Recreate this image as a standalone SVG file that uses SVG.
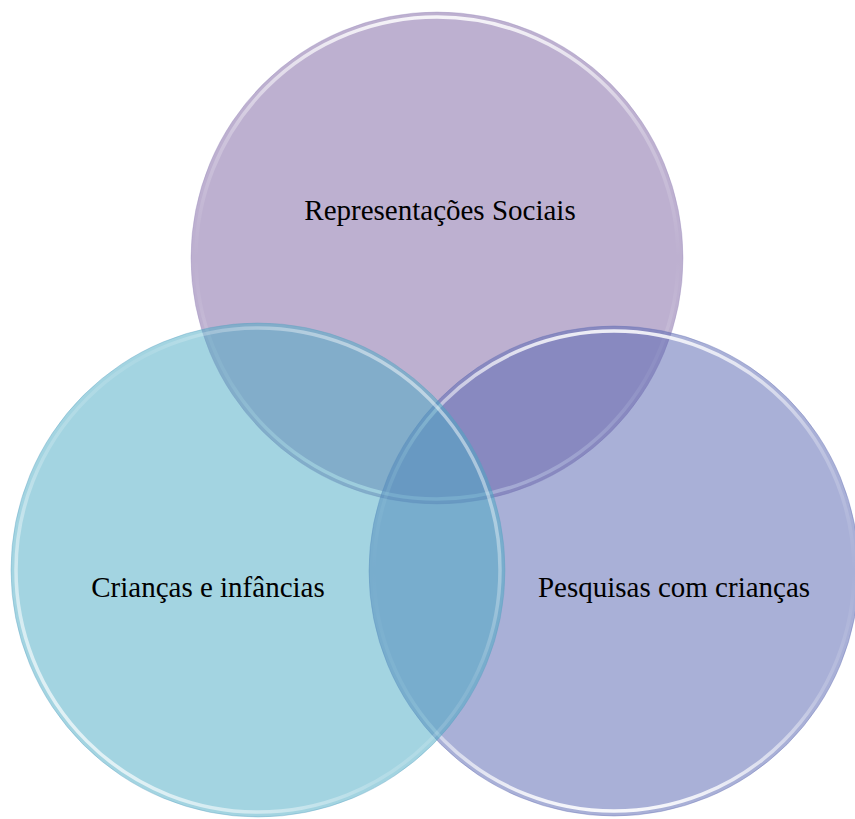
<svg xmlns="http://www.w3.org/2000/svg" width="855" height="819" viewBox="0 0 855 819">
  <defs>
    <linearGradient id="rim" x1="0" y1="0" x2="0" y2="1">
      <stop offset="0" stop-color="#ffffff" stop-opacity="0.85"/>
      <stop offset="0.25" stop-color="#ffffff" stop-opacity="0.25"/>
      <stop offset="0.5" stop-color="#ffffff" stop-opacity="0"/>
      <stop offset="0.75" stop-color="#ffffff" stop-opacity="0.2"/>
      <stop offset="1" stop-color="#ffffff" stop-opacity="0.9"/>
    </linearGradient>
    <linearGradient id="rimL" x1="1" y1="0" x2="0" y2="1">
      <stop offset="0" stop-color="#ffffff" stop-opacity="0.7"/>
      <stop offset="0.4" stop-color="#ffffff" stop-opacity="0.1"/>
      <stop offset="0.6" stop-color="#ffffff" stop-opacity="0.2"/>
      <stop offset="1" stop-color="#ffffff" stop-opacity="0.95"/>
    </linearGradient>
  </defs>
  <style>
    .lbl { font-family: "Liberation Serif", "Times New Roman", serif; font-size: 29px; fill: #000000; text-anchor: middle; }
    .rim { fill: none; stroke-width: 3.5; }
    .edge { fill: none; stroke-width: 1; }
  </style>
  <rect width="855" height="819" fill="#ffffff"/>

  <g id="node-representacoes">
    <circle cx="437" cy="258" r="246" fill="#BDB0D0"/>
    <circle class="edge" cx="437" cy="258" r="246" stroke="#9a8bbd" stroke-opacity="0.35"/>
    <circle class="rim" cx="437" cy="258" r="241" stroke="url(#rim)"/>
    <text class="lbl" x="440" y="220">Representações Sociais</text>
  </g>

  <g id="node-pesquisas">
    <circle cx="614" cy="571" r="245" fill="#5361AF" fill-opacity="0.5"/>
    <circle class="edge" cx="614" cy="571" r="245" stroke="#6670b5" stroke-opacity="0.4"/>
    <circle class="rim" cx="614" cy="571" r="240" stroke="url(#rim)"/>
    <text class="lbl" x="674" y="597">Pesquisas com crianças</text>
  </g>

  <g id="node-criancas">
    <circle cx="258" cy="570" r="247" fill="#47A9C3" fill-opacity="0.5"/>
    <circle class="edge" cx="258" cy="570" r="247" stroke="#5a9fc0" stroke-opacity="0.35"/>
    <circle class="rim" cx="258" cy="570" r="242" stroke="url(#rimL)"/>
    <text class="lbl" x="208" y="597">Crianças e infâncias</text>
  </g>

  <g id="connectors"/>
</svg>
